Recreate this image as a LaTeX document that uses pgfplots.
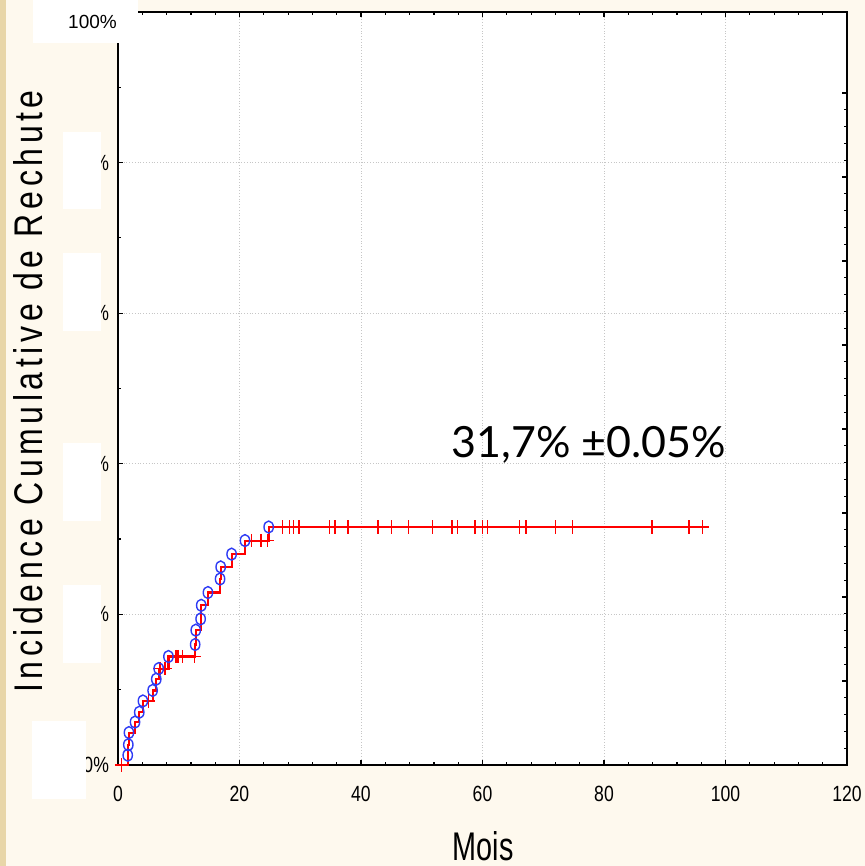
\documentclass[border=0pt]{standalone}
\usepackage{fontspec}
\setmainfont{Liberation Sans}
\newfontfamily\narrowfont{Liberation Sans}[FakeStretch=0.8]
\newfontfamily\moisfont{Liberation Sans}[FakeStretch=0.72]
\newfontfamily\labelfont{Liberation Sans}[FakeStretch=0.8,LetterSpace=11.5]
\newfontfamily\notefont{Lato}
\usepackage{pgfplots}
\pgfplotsset{compat=1.18}
\definecolor{cream}{HTML}{FEF9EE}
\definecolor{tanedge}{HTML}{E8D6A8}
\definecolor{kmred}{HTML}{FF0000}
\definecolor{kmblue}{HTML}{2E3BF5}

\begin{document}
\begin{tikzpicture}
% slide background
\fill[cream] (-59pt,-50.5pt) rectangle (373.5pt,382.5pt);
\fill[tanedge] (-59pt,-50.5pt) rectangle (-56pt,382.5pt);
\useasboundingbox (-59pt,-50.5pt) rectangle (373.5pt,382.5pt);

\begin{axis}[
    scale only axis,
    width=364.5pt, height=376.5pt,
    xmin=0, xmax=120, ymin=0, ymax=100,
    xtick={0,20,...,120},
    ytick={0,20,40,60,80,100},
    yticklabels={0\%,20\%,40\%,60\%,80\%,{}},
    minor x tick num=4, minor y tick num=1,
    xtick pos=both, ytick pos=left,
    tick align=inside,
    major tick length=2.5pt, minor tick length=1.5pt,
    tick style={black, line width=0.6pt},
    axis line style={line width=1pt},
    axis background/.style={fill=white},
    grid=major,
    grid style={densely dotted, gray!45, line width=0.4pt},
    /pgf/number format/assume math mode=true,
    ticklabel style={font=\narrowfont\fontsize{11}{11}\selectfont},
    xticklabel style={yshift=-7pt},
    yticklabel style={xshift=-1pt},
]
% cumulative incidence step curve
\addplot[kmred, line width=1.1pt, const plot, mark=none] coordinates {
    (0,0) (1.6,1.3) (1.7,2.7) (1.8,4.3) (2.8,5.7) (3.5,7.0) (4.1,8.5)
    (5.7,9.9) (6.3,11.4) (6.7,12.8) (8.3,14.4) (12.7,16.0) (12.8,17.9)
    (13.6,19.4) (13.7,21.2) (14.8,22.9) (16.8,24.7) (16.9,26.3)
    (18.7,28.0) (20.9,29.8) (24.8,31.6) (96.6,31.6)
};
% censored observations
\addplot[only marks, mark=+, mark size=3.4pt, kmred, line width=0.8pt] coordinates {
    (0.6,0) (5.0,8.5) (6.9,12.8) (7.7,12.8)
    (9.5,14.4) (9.9,14.4) (10.6,14.4) (12.6,14.4)
    (22.0,29.8) (23.5,29.8) (24.6,29.8)
    (27.1,31.6) (28.2,31.6) (28.9,31.6) (29.8,31.6) (34.8,31.6) (35.7,31.6)
    (37.9,31.6) (42.8,31.6) (45.0,31.6) (47.8,31.6) (51.8,31.6) (55.0,31.6)
    (55.9,31.6) (58.8,31.6) (60.0,31.6) (60.8,31.6) (66.1,31.6) (67.2,31.6)
    (72.0,31.6) (74.8,31.6) (87.9,31.6) (94.0,31.6) (96.2,31.6)
};
% events
\addplot[only marks, mark=o, mark size=3pt, kmblue, line width=0.7pt,
    mark options={xscale=0.78}] coordinates {
    (1.6,1.3) (1.7,2.7) (1.8,4.3) (2.8,5.7) (3.5,7.0) (4.1,8.5)
    (5.7,9.9) (6.3,11.4) (6.7,12.8) (8.3,14.4) (12.7,16.0) (12.8,17.9)
    (13.6,19.4) (13.7,21.2) (14.8,22.9) (16.8,24.7) (16.9,26.3)
    (18.7,28.0) (20.9,29.8) (24.8,31.6)
};
\end{axis}

% right-hand scale (ticks only)
\begin{axis}[
    scale only axis,
    width=364.5pt, height=376.5pt,
    xmin=0, xmax=120, ymin=0, ymax=8.964,
    axis x line=none, axis y line*=right,
    ytick={0,...,8}, minor y tick num=4, yticklabels={},
    tick align=inside,
    major tick length=2.5pt, minor tick length=1.5pt,
    tick style={black, line width=0.6pt},
    axis line style={line width=1pt},
]
\addplot[draw=none] coordinates {(0,0)};
\end{axis}

% white patches over the tick labels
\fill[white] (-42.5pt,361pt) rectangle (10pt,382.5pt);
\node[font=\fontsize{9.5}{10}\selectfont] at (-12.75pt,371.5pt) {100\%};
\foreach \a/\b in {316.5/278, 256/217, 161/122, 90/51}
    \fill[white] (-27.5pt,\a pt) rectangle (-8.5pt,\b pt);
\fill[white] (-43pt,22pt) rectangle (-16pt,-17pt);

\node[rotate=90, font=\labelfont\fontsize{20}{20}\selectfont] at (-45pt,186.75pt) {Incidence Cumulative de Rechute};
\node[anchor=base, font=\moisfont\fontsize{20}{20}\selectfont] at (182.5pt,-47.5pt) {Mois};
\node[anchor=base, font=\notefont\fontsize{21.5}{22}\selectfont] at (235.5pt,153.5pt) {31,7\% ±0.05\%};
\end{tikzpicture}
\end{document}
